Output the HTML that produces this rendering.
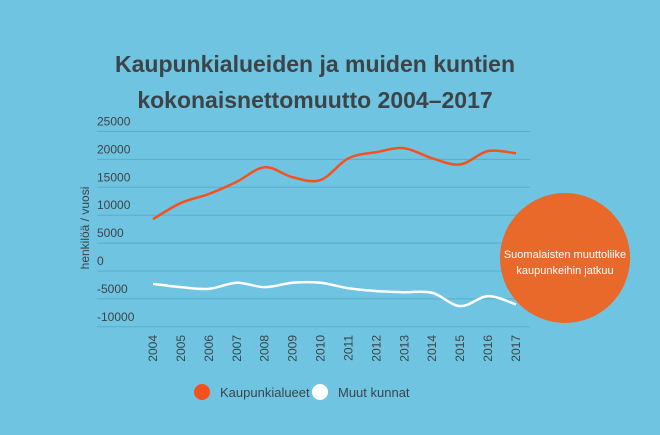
<!DOCTYPE html>
<html><head><meta charset="utf-8"><style>
body{margin:0;width:660px;height:430px;background:#6fc4e1;overflow:hidden;font-family:"Liberation Sans",sans-serif;}
</style></head><body>
<svg id="c" width="660" height="430" xmlns="http://www.w3.org/2000/svg">
<text x="315" y="72" text-anchor="middle" font-size="23" font-weight="bold" fill="#3d4448">Kaupunkialueiden ja muiden kuntien</text>
<text x="315" y="108" text-anchor="middle" font-size="23" font-weight="bold" fill="#3d4448">kokonaisnettomuutto 2004–2017</text>
<text transform="translate(89,228) rotate(-90)" text-anchor="middle" font-size="12" fill="#3d4448">henkilöä / vuosi</text>
<g id="grid"></g><g id="series"></g>
<circle cx="565" cy="258" r="65" fill="#e8692a"/>
<text x="565" y="258" text-anchor="middle" font-size="11" fill="#fff">Suomalaisten muuttoliike</text>
<text x="565" y="274" text-anchor="middle" font-size="11" fill="#fff">kaupunkeihin jatkuu</text>
<g>
<circle cx="202" cy="392" r="8" fill="#f6511d"/>
<text x="220" y="397" font-size="13" fill="#3d4448">Kaupunkialueet</text>
<circle cx="320" cy="392" r="8" fill="#fff"/>
<text x="338" y="397" font-size="13" fill="#3d4448">Muut kunnat</text>
</g>
</svg>
<script>
const years=[2004,2005,2006,2007,2008,2009,2010,2011,2012,2013,2014,2015,2016,2017];
const kaupunki=[9300,12200,13800,16000,18600,16800,16300,20200,21300,22000,20200,19100,21500,21100];
const muut=[-2300,-2900,-3200,-2100,-2900,-2100,-2100,-3100,-3600,-3800,-3900,-6300,-4500,-6000];
const yTicks=[25000,20000,15000,10000,5000,0,-5000,-10000];
const NS="http://www.w3.org/2000/svg";
const x=i=>153+i*(516-153)/(years.length-1);
const y=v=>271-v*(27.9/5000);
const g=document.getElementById('grid'),s=document.getElementById('series');
function mk(t,a,p){const e=document.createElementNS(NS,t);for(const k in a)e.setAttribute(k,a[k]);p.appendChild(e);return e;}
yTicks.forEach(v=>{
 const l=mk('line',{x1:97,x2:530,y1:y(v),y2:y(v),stroke:'#5aaecb','stroke-width':1},g);
 
 
 const t=mk('text',{x:97,y:y(v)-6,'font-size':12,fill:'#3d4448'},g);t.textContent=v;
 
 
});
years.forEach((yr,i)=>{
 const t=mk('text',{transform:`translate(${x(i)+4},335) rotate(-90)`,'text-anchor':'end','font-size':12,fill:'#3d4448'},g);t.textContent=yr;
 
 
});
function smooth(vals){
 const p=vals.map((v,i)=>[x(i),y(v)]);let d=`M${p[0][0]},${p[0][1]}`;
 for(let i=0;i<p.length-1;i++){const p0=p[i-1]||p[i],p1=p[i],p2=p[i+1],p3=p[i+2]||p2;
  d+=` C${p1[0]+(p2[0]-p0[0])/6},${p1[1]+(p2[1]-p0[1])/6} ${p2[0]-(p3[0]-p1[0])/6},${p2[1]-(p3[1]-p1[1])/6} ${p2[0]},${p2[1]}`;}
 return d;}
const a=mk('path',{d:smooth(kaupunki),fill:'none',stroke:'#f6511d','stroke-width':2.5},s);


const b=mk('path',{d:smooth(muut),fill:'none',stroke:'#fff','stroke-width':2.5},s);


</script>
</body></html>
